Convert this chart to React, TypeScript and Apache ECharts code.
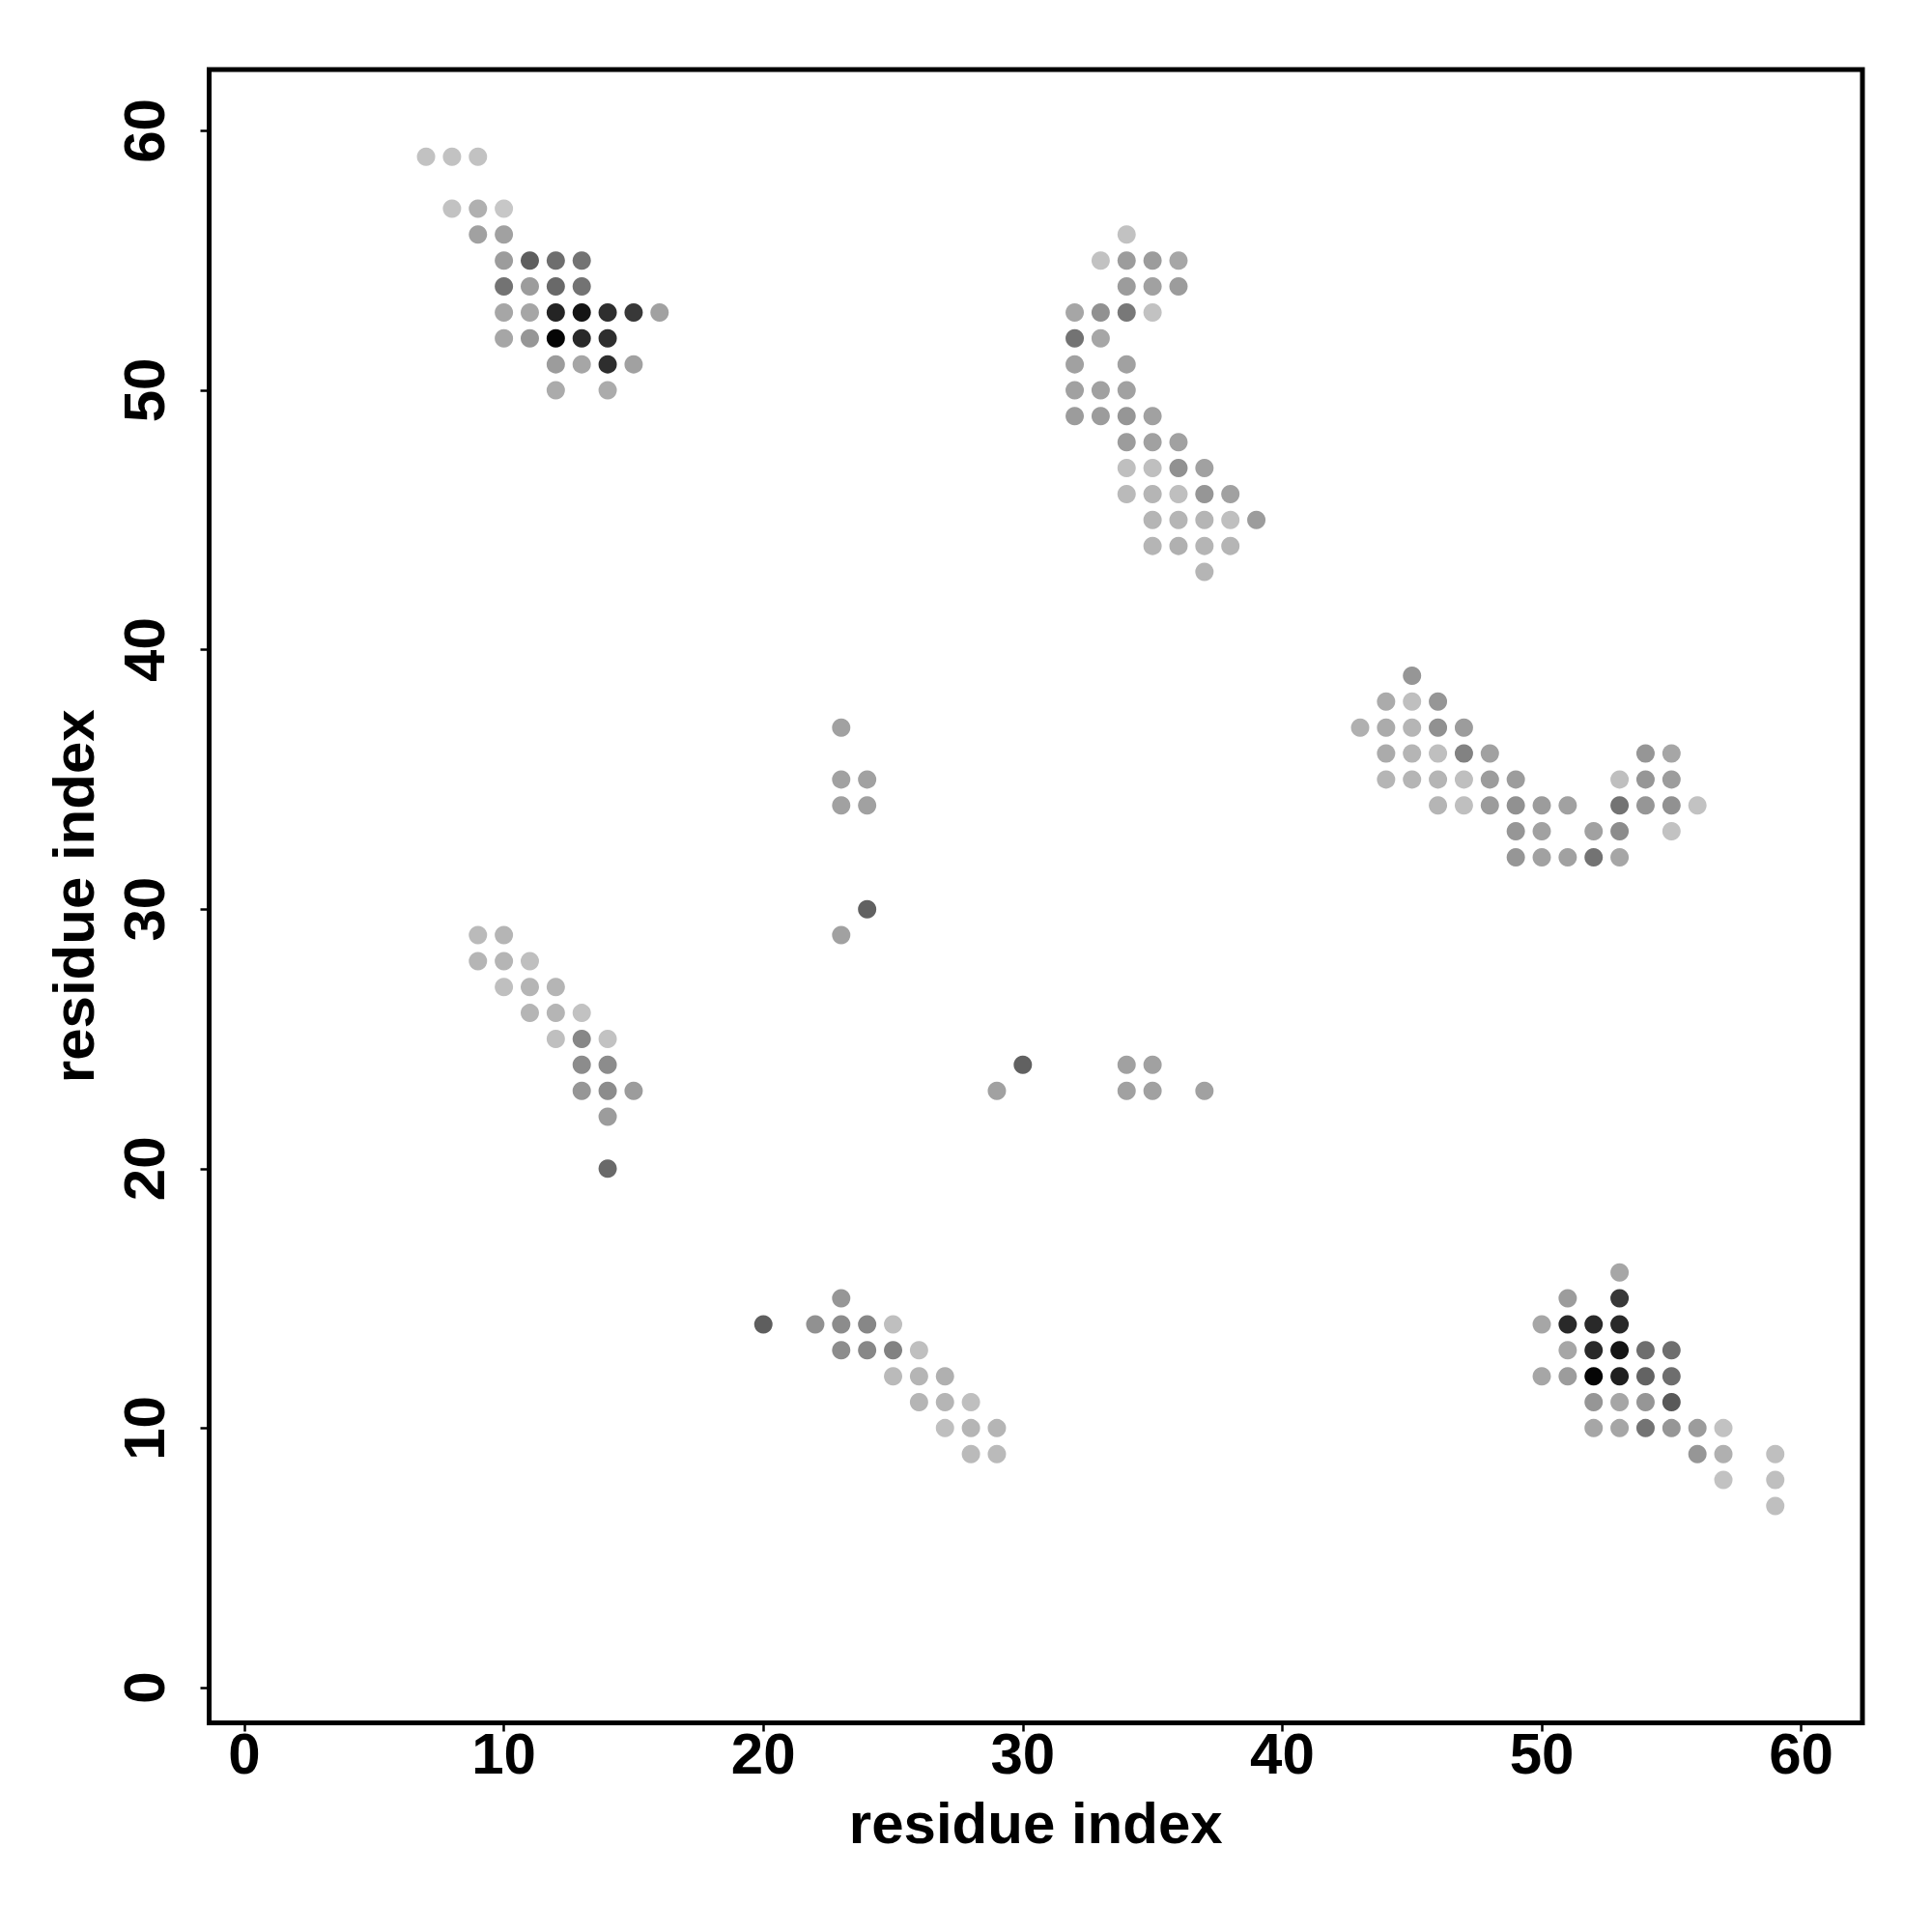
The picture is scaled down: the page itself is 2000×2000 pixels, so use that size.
import React, { useEffect, useRef } from "react";
import * as echarts from "echarts";

// [residue i, residue j, contact strength 0..1]
type Pt = [number, number, number];

const clusterTopLeft: Pt[] = [
  [7, 59, 0.24], [8, 59, 0.24], [9, 59, 0.24],
  [8, 57, 0.24], [9, 57, 0.31], [10, 57, 0.22],
  [9, 56, 0.37], [10, 56, 0.37],
  [10, 55, 0.39], [11, 55, 0.63], [12, 55, 0.57], [13, 55, 0.55],
  [10, 54, 0.55], [11, 54, 0.39], [12, 54, 0.59], [13, 54, 0.55],
  [10, 53, 0.35], [11, 53, 0.35], [12, 53, 0.86], [13, 53, 0.92], [14, 53, 0.82], [15, 53, 0.78], [16, 53, 0.37],
  [10, 52, 0.35], [11, 52, 0.41], [12, 52, 0.98], [13, 52, 0.84], [14, 52, 0.82],
  [12, 51, 0.39], [13, 51, 0.35], [14, 51, 0.82], [15, 51, 0.37],
  [12, 50, 0.33], [14, 50, 0.33],
];

const clusterUpperMiddle: Pt[] = [
  [34, 56, 0.24],
  [33, 55, 0.24], [34, 55, 0.39], [35, 55, 0.39], [36, 55, 0.35],
  [34, 54, 0.39], [35, 54, 0.37], [36, 54, 0.39],
  [32, 53, 0.35], [33, 53, 0.43], [34, 53, 0.53], [35, 53, 0.24],
  [32, 52, 0.55], [33, 52, 0.35],
  [32, 51, 0.37], [34, 51, 0.37],
  [32, 50, 0.37], [33, 50, 0.37], [34, 50, 0.37],
  [32, 49, 0.39], [33, 49, 0.39], [34, 49, 0.41], [35, 49, 0.37],
  [34, 48, 0.39], [35, 48, 0.37], [36, 48, 0.37],
  [34, 47, 0.25], [35, 47, 0.25], [36, 47, 0.43], [37, 47, 0.37],
  [34, 46, 0.27], [35, 46, 0.29], [36, 46, 0.25], [37, 46, 0.41], [38, 46, 0.37],
  [35, 45, 0.29], [36, 45, 0.29], [37, 45, 0.29], [38, 45, 0.25], [39, 45, 0.39],
  [35, 44, 0.29], [36, 44, 0.31], [37, 44, 0.29], [38, 44, 0.29],
  [37, 43, 0.29],
];

const clusterRightMiddle: Pt[] = [
  [45, 39, 0.41],
  [44, 38, 0.33], [45, 38, 0.25], [46, 38, 0.41],
  [43, 37, 0.31], [44, 37, 0.33], [45, 37, 0.29], [46, 37, 0.43], [47, 37, 0.39],
  [44, 36, 0.33], [45, 36, 0.29], [46, 36, 0.25], [47, 36, 0.49], [48, 36, 0.37], [54, 36, 0.41], [55, 36, 0.35],
  [44, 35, 0.29], [45, 35, 0.29], [46, 35, 0.29], [47, 35, 0.25], [48, 35, 0.39], [49, 35, 0.39], [53, 35, 0.25], [54, 35, 0.41], [55, 35, 0.39],
  [46, 34, 0.29], [47, 34, 0.25], [48, 34, 0.39], [49, 34, 0.43], [50, 34, 0.39], [51, 34, 0.37], [53, 34, 0.55], [54, 34, 0.41], [55, 34, 0.43], [56, 34, 0.24],
  [49, 33, 0.41], [50, 33, 0.37], [52, 33, 0.37], [53, 33, 0.45], [55, 33, 0.24],
  [49, 32, 0.41], [50, 32, 0.37], [51, 32, 0.37], [52, 32, 0.55], [53, 32, 0.35],
];

const clusterLeftMiddle: Pt[] = [
  [9, 29, 0.27], [10, 29, 0.29],
  [9, 28, 0.29], [10, 28, 0.29], [11, 28, 0.25],
  [10, 27, 0.25], [11, 27, 0.29], [12, 27, 0.29],
  [11, 26, 0.29], [12, 26, 0.29], [13, 26, 0.24],
  [12, 25, 0.25], [13, 25, 0.47], [14, 25, 0.24],
  [13, 24, 0.45], [14, 24, 0.45],
  [13, 23, 0.41], [14, 23, 0.45], [15, 23, 0.39],
  [14, 22, 0.39],
  [14, 20, 0.59],
];

const clusterCenter: Pt[] = [
  [23, 37, 0.37], [23, 35, 0.37], [24, 35, 0.37], [23, 34, 0.37], [24, 34, 0.37],
  [24, 30, 0.62], [23, 29, 0.37],
  [30, 24, 0.62], [29, 23, 0.37],
  [34, 24, 0.37], [35, 24, 0.37], [34, 23, 0.37], [35, 23, 0.37], [37, 23, 0.37],
];

const clusterBottomMiddle: Pt[] = [
  [23, 15, 0.41],
  [20, 14, 0.63], [22, 14, 0.43], [23, 14, 0.45], [24, 14, 0.47], [25, 14, 0.25],
  [23, 13, 0.45], [24, 13, 0.47], [25, 13, 0.49], [26, 13, 0.25],
  [25, 12, 0.27], [26, 12, 0.29], [27, 12, 0.31],
  [26, 11, 0.29], [27, 11, 0.29], [28, 11, 0.25],
  [27, 10, 0.25], [28, 10, 0.29], [29, 10, 0.29],
  [28, 9, 0.27], [29, 9, 0.27],
];

const clusterBottomRight: Pt[] = [
  [53, 16, 0.35],
  [51, 15, 0.39], [53, 15, 0.78],
  [50, 14, 0.35], [51, 14, 0.84], [52, 14, 0.84], [53, 14, 0.84],
  [51, 13, 0.35], [52, 13, 0.84], [53, 13, 0.92], [54, 13, 0.57], [55, 13, 0.57],
  [50, 12, 0.35], [51, 12, 0.39], [52, 12, 0.98], [53, 12, 0.88], [54, 12, 0.61], [55, 12, 0.57],
  [52, 11, 0.41], [53, 11, 0.35], [54, 11, 0.41], [55, 11, 0.65],
  [52, 10, 0.35], [53, 10, 0.35], [54, 10, 0.55], [55, 10, 0.41], [56, 10, 0.39], [57, 10, 0.24],
  [56, 9, 0.41], [57, 9, 0.31], [59, 9, 0.25],
  [57, 8, 0.24], [59, 8, 0.25],
  [59, 7, 0.25],
];

const tickValues = [0, 10, 20, 30, 40, 50, 60];
const axisTitle = "residue index";
const residueRange = [1, 60];

const allPoints: Pt[] = [
  ...clusterTopLeft,
  ...clusterUpperMiddle,
  ...clusterRightMiddle,
  ...clusterLeftMiddle,
  ...clusterCenter,
  ...clusterBottomMiddle,
  ...clusterBottomRight,
];

const FONT = "'Liberation Sans', Arial, Helvetica, sans-serif";

function grayFor(v: number): string {
  const g = Math.round(255 * (1 - v));
  return `rgb(${g},${g},${g})`;
}

export default function App() {
  const ref = useRef<HTMLDivElement>(null);

  useEffect(() => {
    if (!ref.current) return;
    const chart = echarts.init(ref.current, undefined, { renderer: "svg" });
    const span = residueRange[1] - residueRange[0];
    const lo = residueRange[0] - span * 0.04;
    const hi = residueRange[1] + span * 0.04;

    const axisCommon = {
      type: "value" as const,
      min: lo,
      max: hi,
      splitLine: { show: false },
      axisLine: { show: false, onZero: false },
      axisTick: {
        show: true,
        length: 9,
        customValues: tickValues,
        lineStyle: { color: "#000", width: 2.5 },
      },
      name: axisTitle,
      nameLocation: "middle" as const,
      nameTextStyle: {
        fontSize: 60,
        fontWeight: "bold" as const,
        fontFamily: FONT,
        color: "#000",
      },
    };

    chart.setOption({
      animation: false,
      backgroundColor: "#fff",
      grid: {
        left: 216.5,
        right: 72,
        top: 72,
        bottom: 216.5,
        show: true,
        borderColor: "#000",
        borderWidth: 5,
        backgroundColor: "transparent",
        containLabel: false,
      },
      xAxis: {
        ...axisCommon,
        nameGap: 74,
        axisLabel: {
          customValues: tickValues,
          fontSize: 60,
          fontWeight: "bold",
          fontFamily: FONT,
          color: "#000",
          margin: 2,
        },
      },
      yAxis: {
        ...axisCommon,
        nameGap: 110,
        axisLabel: {
          customValues: tickValues,
          rotate: 90,
          fontSize: 60,
          fontWeight: "bold",
          fontFamily: FONT,
          color: "#000",
          margin: 37,
        },
      },
      series: [
        {
          type: "scatter",
          symbol: "circle",
          symbolSize: 19,
          data: allPoints,
          itemStyle: {
            color: (p: any) => grayFor(p.value[2]),
            opacity: 1,
          },
        },
      ],
    });

    return () => chart.dispose();
  }, []);

  return (
    <div
      ref={ref}
      style={{ position: "absolute", left: 0, top: 0, width: 2000, height: 2000, background: "#fff" }}
    />
  );
}
